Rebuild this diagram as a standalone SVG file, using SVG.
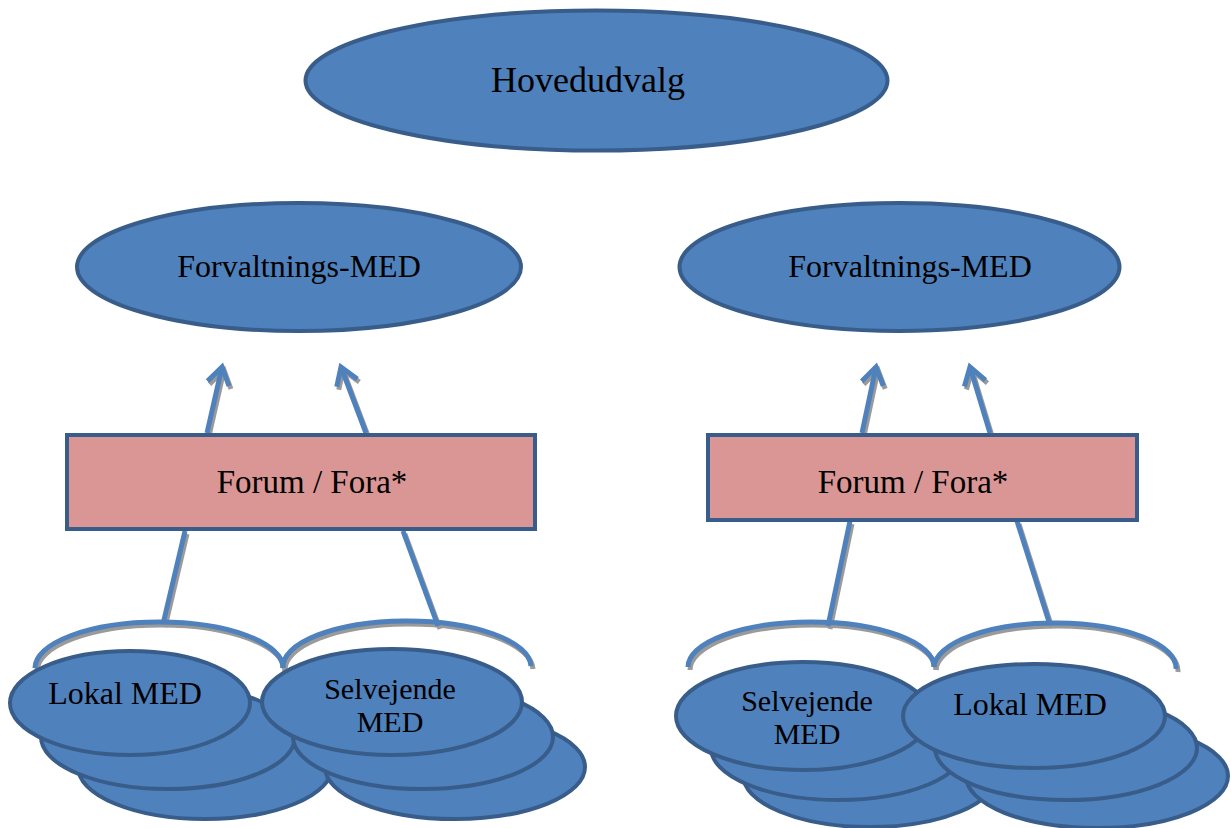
<svg xmlns="http://www.w3.org/2000/svg" width="1231" height="828" viewBox="0 0 1231 828">
<style>
.node{fill:#4F81BD;stroke:#385D8A;stroke-width:4}
.box{fill:#D99694;stroke:#385D8A;stroke-width:4}
.t{font-family:"Liberation Serif","Times New Roman","DejaVu Serif",serif;font-size:32px;fill:#000;text-anchor:middle}
.c{fill:none;stroke:#4F81BD;stroke-width:5}
.s{fill:none;stroke:#9A9A9A;stroke-width:5}
</style>
<defs>
<marker id="ah" markerUnits="userSpaceOnUse" viewBox="-22 -16 26 32" markerWidth="26" markerHeight="32" refX="0" refY="0" orient="auto" overflow="visible">
<path d="M-17,-11 L0,0 L-17,11" fill="none" stroke="#4F81BD" stroke-width="5"/>
</marker>
<marker id="ahs" markerUnits="userSpaceOnUse" viewBox="-22 -16 26 32" markerWidth="26" markerHeight="32" refX="0" refY="0" orient="auto" overflow="visible">
<path d="M-17,-11 L0,0 L-17,11" fill="none" stroke="#9A9A9A" stroke-width="5"/>
</marker>
</defs>
<g id="connectors">
<g transform="translate(2,3)">
<path class="s" d="M207,433 L222,367" marker-end="url(#ahs)"/>
<path class="s" d="M366,433 L341,367" marker-end="url(#ahs)"/>
<path class="s" d="M862,433 L876,367" marker-end="url(#ahs)"/>
<path class="s" d="M990,433 L970,367" marker-end="url(#ahs)"/>
<path class="s" d="M185,531 L163,624"/>
<path class="s" d="M403,531 L438,626"/>
<path class="s" d="M850,521 L828,626"/>
<path class="s" d="M1017,521 L1050,625"/>
<path class="s" d="M35,668 A124,46 0 0 1 283,668"/>
<path class="s" d="M283,668 A124,46 0 0 1 531,666"/>
<path class="s" d="M688,667 A123,45 0 0 1 934,667"/>
<path class="s" d="M934,667 A121,45 0 0 1 1176,669"/>
</g>
<path class="c" d="M207,433 L222,367" marker-end="url(#ah)"/>
<path class="c" d="M366,433 L341,367" marker-end="url(#ah)"/>
<path class="c" d="M862,433 L876,367" marker-end="url(#ah)"/>
<path class="c" d="M990,433 L970,367" marker-end="url(#ah)"/>
<path class="c" d="M185,531 L163,624"/>
<path class="c" d="M403,531 L438,626"/>
<path class="c" d="M850,521 L828,626"/>
<path class="c" d="M1017,521 L1050,625"/>
<path class="c" d="M35,668 A124,46 0 0 1 283,668"/>
<path class="c" d="M283,668 A124,46 0 0 1 531,666"/>
<path class="c" d="M688,667 A123,45 0 0 1 934,667"/>
<path class="c" d="M934,667 A121,45 0 0 1 1176,669"/>
</g>
<g id="hovedudvalg">
<ellipse class="node" cx="596.5" cy="80.5" rx="291" ry="70"/>
<text class="t" x="588" y="92" style="font-size:36px">Hovedudvalg</text>
</g>
<g id="forv-left">
<ellipse class="node" cx="299" cy="267" rx="222" ry="64"/>
<text class="t" x="299" y="277">Forvaltnings-MED</text>
</g>
<g id="forv-right">
<ellipse class="node" cx="899.5" cy="267" rx="220" ry="64"/>
<text class="t" x="910" y="277">Forvaltnings-MED</text>
</g>
<g id="forum-left">
<rect class="box" x="67" y="435" width="468" height="94"/>
<text class="t" x="312" y="493" style="font-size:33px">Forum / Fora*</text>
</g>
<g id="forum-right">
<rect class="box" x="708" y="435" width="429" height="85"/>
<text class="t" x="913" y="493" style="font-size:33px">Forum / Fora*</text>
</g>
<g id="lokal-left">
<ellipse class="node" cx="205" cy="767" rx="127" ry="52"/>
<ellipse class="node" cx="168" cy="737" rx="127" ry="52"/>
<ellipse class="node" cx="130" cy="703" rx="120" ry="52"/>
<text class="t" x="125" y="704">Lokal MED</text>
</g>
<g id="selv-left">
<ellipse class="node" cx="455" cy="767" rx="130" ry="52"/>
<ellipse class="node" cx="423" cy="737" rx="130" ry="52"/>
<ellipse class="node" cx="392" cy="702" rx="130" ry="53"/>
<text class="t" style="font-size:30px"><tspan x="390" y="699">Selvejende</tspan><tspan x="390" y="732">MED</tspan></text>
</g>
<g id="selv-right">
<ellipse class="node" cx="870" cy="775" rx="127" ry="52"/>
<ellipse class="node" cx="838" cy="748" rx="127" ry="52"/>
<ellipse class="node" cx="803" cy="716" rx="127" ry="54"/>
<text class="t" style="font-size:30px"><tspan x="807" y="711">Selvejende</tspan><tspan x="807" y="744">MED</tspan></text>
</g>
<g id="lokal-right">
<ellipse class="node" cx="1097" cy="776" rx="131" ry="52"/>
<ellipse class="node" cx="1066" cy="748" rx="131" ry="52"/>
<ellipse class="node" cx="1034" cy="716" rx="131" ry="52"/>
<text class="t" x="1030" y="715">Lokal MED</text>
</g>
</svg>
